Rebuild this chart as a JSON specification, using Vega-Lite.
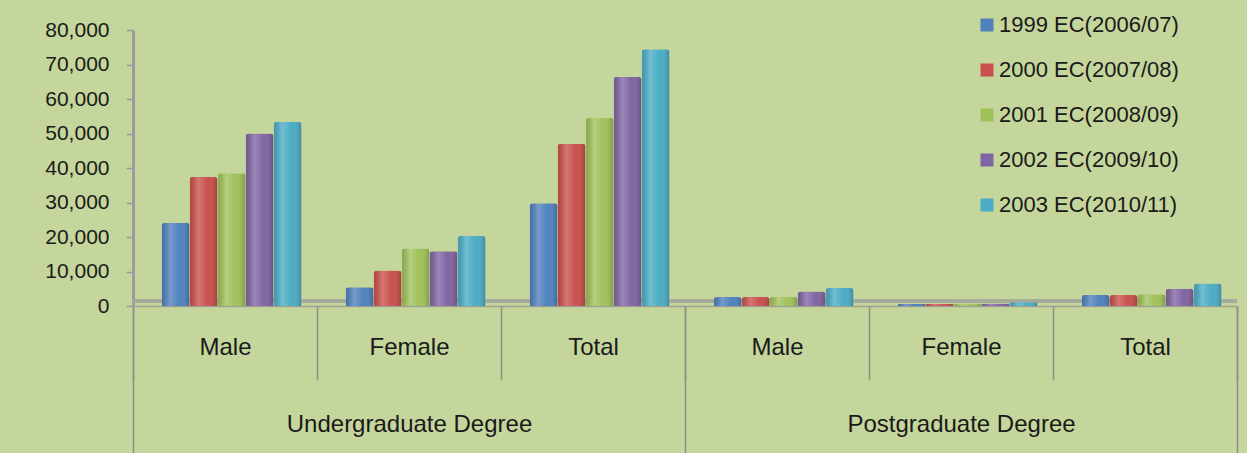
{
  "$schema": "https://vega.github.io/schema/vega-lite/v6.json",
  "width": 1104,
  "height": 276,
  "autosize": {"type": "none"},
  "padding": {"left": 133, "top": 30, "right": 10, "bottom": 147},
  "background": "#c4d69b",
  "config": {
    "view": {"stroke": null},
    "font": "Liberation Sans",
    "axis": {"labelFont": "Liberation Sans", "labelColor": "#1a1a1a", "grid": false},
    "axisY": {
      "title": null,
      "format": ",d",
      "labelOverlap": false,
      "labelFontSize": 21,
      "tickSize": 7,
      "tickColor": "#9a9a9a",
      "tickWidth": 1.5,
      "labelPadding": 17,
      "domainColor": "#9c9c9c",
      "domainWidth": 3
    }
  },
  "data": {
    "values": [
      {"degree": "Undergraduate Degree", "gender": "Male", "year": "1999 EC(2006/07)", "value": 24100},
      {"degree": "Undergraduate Degree", "gender": "Male", "year": "2000 EC(2007/08)", "value": 37400},
      {"degree": "Undergraduate Degree", "gender": "Male", "year": "2001 EC(2008/09)", "value": 38500},
      {"degree": "Undergraduate Degree", "gender": "Male", "year": "2002 EC(2009/10)", "value": 50000},
      {"degree": "Undergraduate Degree", "gender": "Male", "year": "2003 EC(2010/11)", "value": 53400},
      {"degree": "Undergraduate Degree", "gender": "Female", "year": "1999 EC(2006/07)", "value": 5400},
      {"degree": "Undergraduate Degree", "gender": "Female", "year": "2000 EC(2007/08)", "value": 10300},
      {"degree": "Undergraduate Degree", "gender": "Female", "year": "2001 EC(2008/09)", "value": 16700},
      {"degree": "Undergraduate Degree", "gender": "Female", "year": "2002 EC(2009/10)", "value": 15900},
      {"degree": "Undergraduate Degree", "gender": "Female", "year": "2003 EC(2010/11)", "value": 20300},
      {"degree": "Undergraduate Degree", "gender": "Total", "year": "1999 EC(2006/07)", "value": 29800},
      {"degree": "Undergraduate Degree", "gender": "Total", "year": "2000 EC(2007/08)", "value": 47000},
      {"degree": "Undergraduate Degree", "gender": "Total", "year": "2001 EC(2008/09)", "value": 54600},
      {"degree": "Undergraduate Degree", "gender": "Total", "year": "2002 EC(2009/10)", "value": 66400},
      {"degree": "Undergraduate Degree", "gender": "Total", "year": "2003 EC(2010/11)", "value": 74400},
      {"degree": "Postgraduate Degree", "gender": "Male", "year": "1999 EC(2006/07)", "value": 2600},
      {"degree": "Postgraduate Degree", "gender": "Male", "year": "2000 EC(2007/08)", "value": 2600},
      {"degree": "Postgraduate Degree", "gender": "Male", "year": "2001 EC(2008/09)", "value": 2700},
      {"degree": "Postgraduate Degree", "gender": "Male", "year": "2002 EC(2009/10)", "value": 4200},
      {"degree": "Postgraduate Degree", "gender": "Male", "year": "2003 EC(2010/11)", "value": 5200},
      {"degree": "Postgraduate Degree", "gender": "Female", "year": "1999 EC(2006/07)", "value": 600},
      {"degree": "Postgraduate Degree", "gender": "Female", "year": "2000 EC(2007/08)", "value": 600},
      {"degree": "Postgraduate Degree", "gender": "Female", "year": "2001 EC(2008/09)", "value": 650},
      {"degree": "Postgraduate Degree", "gender": "Female", "year": "2002 EC(2009/10)", "value": 750},
      {"degree": "Postgraduate Degree", "gender": "Female", "year": "2003 EC(2010/11)", "value": 1100},
      {"degree": "Postgraduate Degree", "gender": "Total", "year": "1999 EC(2006/07)", "value": 3200},
      {"degree": "Postgraduate Degree", "gender": "Total", "year": "2000 EC(2007/08)", "value": 3200},
      {"degree": "Postgraduate Degree", "gender": "Total", "year": "2001 EC(2008/09)", "value": 3400},
      {"degree": "Postgraduate Degree", "gender": "Total", "year": "2002 EC(2009/10)", "value": 5000},
      {"degree": "Postgraduate Degree", "gender": "Total", "year": "2003 EC(2010/11)", "value": 6500}
    ]
  },
  "transform": [
    {"calculate": "datum.degree + '|' + datum.gender", "as": "cat"}
  ],
  "resolve": {"axis": {"x": "independent"}},
  "layer": [
    {
      "mark": {"type": "rule", "color": "#a6aa98", "strokeWidth": 3},
      "encoding": {
        "y": {
          "datum": 1400,
          "type": "quantitative",
          "axis": {"values": [0, 10000, 20000, 30000, 40000, 50000, 60000, 70000, 80000]}
        }
      }
    },
    {
      "mark": {"type": "bar", "cornerRadiusTopLeft": 3, "cornerRadiusTopRight": 3},
      "encoding": {
        "x": {
          "field": "cat",
          "type": "nominal",
          "sort": null,
          "scale": {"paddingInner": 0, "paddingOuter": 0},
          "axis": {
            "orient": "bottom",
            "title": null,
            "labelExpr": "split(datum.value, '|')[1]",
            "labelFontSize": 24,
            "labelAngle": 0,
            "tickBand": "extent",
            "tickExtra": true,
            "tickSize": 74,
            "tickColor": "#8c8f84",
            "tickWidth": 1.5,
            "labelPadding": -45,
            "domainColor": "#a0a394",
            "domainWidth": 1.5
          }
        },
        "xOffset": {
          "field": "year",
          "type": "nominal",
          "scale": {"paddingInner": 0, "paddingOuter": 0.786, "align": 0.65}
        },
        "y": {
          "field": "value",
          "type": "quantitative",
          "scale": {"domain": [0, 80000], "nice": false},
          "axis": {"values": [0, 10000, 20000, 30000, 40000, 50000, 60000, 70000, 80000]}
        },
        "color": {
          "field": "year",
          "type": "nominal",
          "scale": {"range": ["#4f81bd", "#c9504c", "#9fc15a", "#8064a2", "#4bacc6"]},
          "legend": {
            "title": null,
            "orient": "none",
            "legendX": 843,
            "legendY": -16,
            "symbolType": "square",
            "symbolSize": 169,
            "symbolStrokeWidth": 0,
            "labelFontSize": 22,
            "labelColor": "#1a1a1a",
            "labelOffset": 1,
            "rowPadding": 23,
            "labelLimit": 400
          }
        }
      }
    },
    {
      "mark": {
        "type": "bar",
        "cornerRadiusTopLeft": 3,
        "cornerRadiusTopRight": 3,
        "color": {
          "gradient": "linear",
          "x1": 0, "y1": 0, "x2": 1, "y2": 0,
          "stops": [
            {"offset": 0, "color": "rgba(0,0,0,0.12)"},
            {"offset": 0.3, "color": "rgba(255,255,255,0.22)"},
            {"offset": 0.65, "color": "rgba(255,255,255,0.0)"},
            {"offset": 1, "color": "rgba(0,0,0,0.22)"}
          ]
        }
      },
      "encoding": {
        "x": {
          "field": "cat",
          "type": "nominal",
          "sort": null,
          "axis": {
            "orient": "bottom",
            "title": null,
            "labelExpr": "split(datum.value, '|')[1] == 'Female' ? split(datum.value, '|')[0] : ''",
            "labelFontSize": 24,
            "labelAngle": 0,
            "labelLimit": 500,
            "labelOverlap": false,
            "tickBand": "extent",
            "tickExtra": true,
            "tickSize": 150,
            "tickColor": "#8c8f84",
            "tickWidth": 1.5,
            "tickOpacity": {"condition": {"test": "datum.extra || split(datum.value, '|')[1] == 'Total'", "value": 1}, "value": 0},
            "labelPadding": -44,
            "domain": false
          }
        },
        "xOffset": {"field": "year", "type": "nominal"},
        "y": {
          "field": "value",
          "type": "quantitative",
          "axis": {"values": [0, 10000, 20000, 30000, 40000, 50000, 60000, 70000, 80000]}
        }
      }
    }
  ]
}
